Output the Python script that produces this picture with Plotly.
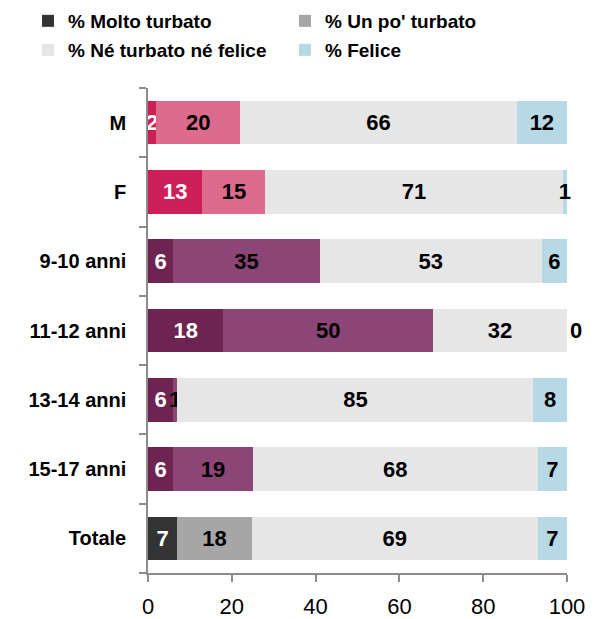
import plotly.graph_objects as go

# categories listed bottom-to-top
categories = ["Totale", "15-17 anni", "13-14 anni", "11-12 anni", "9-10 anni", "F", "M"]

series_names = ["% Molto turbato", "% Un po' turbato", "% Né turbato né felice", "% Felice"]
molto_turbato = [7, 6, 6, 18, 6, 13, 2]
un_po_turbato = [18, 19, 1, 50, 35, 15, 20]
ne_ne = [69, 68, 85, 32, 53, 71, 66]
felice = [7, 7, 8, 0, 6, 1, 12]

# colours per row for the first two segments
c1 = ["#333333", "#6e2350", "#6e2350", "#6e2350", "#6e2350", "#cc1f5a", "#cc1f5a"]
c2 = ["#a6a6a6", "#8c4577", "#8c4577", "#8c4577", "#8c4577", "#dc6b8e", "#dc6b8e"]
c3 = "#e6e6e6"
c4 = "#b7d9e6"

FONT = "Liberation Sans"
series = [molto_turbato, un_po_turbato, ne_ne, felice]
colors = [c1, c2, [c3] * 7, [c4] * 7]
txtcol = ["white", "black", "black", "black"]
legends = ["legend", "legend2", "legend3", "legend4"]

fig = go.Figure()
for name, vals, col, tc, lg in zip(series_names, series, colors, txtcol, legends):
    # zero-width segments cannot hold inside text, so their label sits just outside
    tpos = ["inside" if v > 0 else "outside" for v in vals]
    fig.add_trace(go.Bar(
        y=categories, x=vals, name=name, orientation="h",
        marker=dict(color=col, line=dict(width=0)),
        text=[str(v) for v in vals], textposition=tpos,
        insidetextanchor="middle", constraintext="none",
        textfont=dict(family=FONT, size=22, color=tc, weight="bold"),
        outsidetextfont=dict(family=FONT, size=22, color="black", weight="bold"),
        cliponaxis=False, legend=lg, showlegend=True, hoverinfo="skip",
    ))

# page body has an 8px margin, so the figure is offset by 8px from the window corner
W, H = 588, 611
legend_common = dict(
    visible=True,
    orientation="h", xref="container", yref="container",
    xanchor="left", yanchor="middle",
    font=dict(family=FONT, size=19, color="black", weight="bold"),
    bgcolor="rgba(0,0,0,0)", itemclick=False, itemdoubleclick=False,
)
col_x = [20 / W, 277 / W]
row_y = [1 - 13 / H, 1 - 42 / H]
fig.update_layout(
    width=W, height=H, showlegend=True,
    barmode="stack", barnorm="percent", bargap=0.37,
    plot_bgcolor="white", paper_bgcolor="white",
    margin=dict(l=140, r=29, t=80, b=45.5),
    uniformtext=dict(minsize=22, mode="show"),
    legend=dict(x=col_x[0], y=row_y[0], **legend_common),
    legend2=dict(x=col_x[1], y=row_y[0], **legend_common),
    legend3=dict(x=col_x[0], y=row_y[1], **legend_common),
    legend4=dict(x=col_x[1], y=row_y[1], **legend_common),
    xaxis=dict(
        range=[0, 100], tickvals=[0, 20, 40, 60, 80, 100],
        showgrid=False, zeroline=False,
        showline=True, linecolor="#8c8c8c", linewidth=1.5,
        ticks="outside", ticklen=7, tickcolor="#8c8c8c", tickwidth=1.5,
        tickfont=dict(family=FONT, size=22, color="black"),
        ticklabelstandoff=6, automargin=False,
    ),
    yaxis=dict(
        showgrid=False, zeroline=False,
        showline=True, linecolor="#8c8c8c", linewidth=1.5,
        ticks="outside", tickson="boundaries", ticklen=7,
        tickcolor="#8c8c8c", tickwidth=1.5,
        tickfont=dict(family=FONT, size=20, color="black", weight="bold"),
        ticklabelstandoff=16, automargin=False,
    ),
)

fig.write_html("out.html")
